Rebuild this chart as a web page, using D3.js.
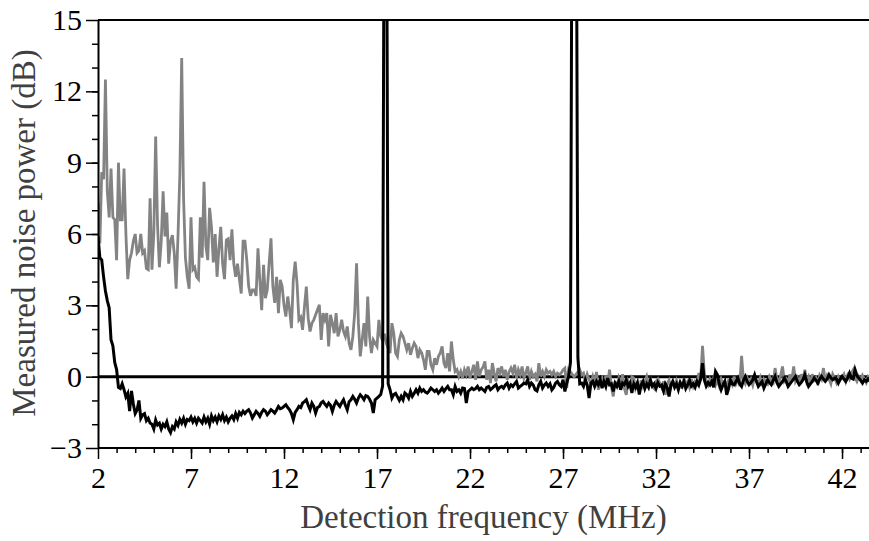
<!DOCTYPE html>
<html><head><meta charset="utf-8">
<script src="https://cdn.jsdelivr.net/npm/d3@7"></script>
<style>
body{margin:0;background:#fff}
svg{display:block}
text{font-family:"Liberation Serif","Times New Roman",serif}
</style>
</head><body>
<svg id="chart" width="869" height="541"></svg>
<script>
// Sampling of the spectrum analyser trace (MHz)
const freqStart = 2.0;
const freqStep = 0.1;

// Grey trace: measured noise power (dB), one row per MHz (x.0 ... x.9)
const greyTrace = [
  7.3, 5.6, 8.6, 8.3, 12.5, 7.8, 6.7, 8.75, 6.7, 6.6,      // 2
  4.9, 9.0, 6.6, 6.6, 8.75, 6.0, 4.1, 4.9, 5.2, 5.7,        // 3
  6.0, 5.2, 5.3, 6.0, 5.2, 5.3, 4.55, 4.5, 7.5, 4.5,        // 4
  6.0, 10.1, 6.4, 4.6, 5.7, 7.8, 5.9, 6.9, 4.75, 5.7,       // 5
  5.95, 5.2, 3.7, 5.9, 8.5, 13.4, 7.5, 5.0, 4.2, 3.7,       // 6
  6.7, 4.5, 4.6, 4.2, 4.1, 6.7, 5.0, 8.2, 5.5, 4.9,         // 7
  7.1, 6.3, 4.8, 6.0, 4.2, 5.4, 6.3, 4.75, 4.1, 5.75,       // 8
  5.8, 4.9, 6.2, 4.75, 4.2, 4.75, 4.1, 3.5, 5.7, 5.7,       // 9
  4.9, 3.8, 3.4, 3.65, 3.65, 3.4, 5.4, 4.07, 2.8, 4.7,      // 10
  3.3, 3.65, 4.77, 5.82, 3.8, 3.1, 4.2, 2.67, 4.07, 3.8,    // 11
  3.0, 2.53, 3.37, 2.81, 2.04, 4.07, 4.84, 3.93, 2.39, 2.5, // 12
  1.97, 2.95, 3.79, 2.46, 1.9, 2.25, 2.39, 2.6, 2.81, 3.02, // 13
  1.55, 2.67, 2.39, 2.67, 1.27, 2.6, 2.25, 1.83, 2.67, 1.69,// 14
  1.97, 2.39, 1.9, 1.69, 2.11, 1.41, 1.13, 1.69, 2.67, 4.77,// 15
  2.25, 0.85, 1.55, 2.25, 1.27, 3.37, 1.69, 0.99, 1.55, 1.41,// 16
  1.27, 2.39, 1.7, 1.5, 1.8, 1.4, 1.2, 0.99, 2.25, 1.83,    // 17
  0.99, 0.85, 1.55, 1.83, 1.69, 1.41, 1.13, 1.41, 0.92, 1.2,// 18
  1.41, 1.27, 0.78, 1.13, 1.0, 0.71, 0.29, 1.06, 1.06, 0.5, // 19
  0.29, 0.78, 0.5, 0.85, 1.0, 1.27, 0.57, 0.36, 0.99, 0.22, // 20
  1.48, 0.71, 0.22, 0.3, 0.01, 0.22, -0.06, 0.29, 0.08, 0.43,// 21
  -0.06, 0.22, 0.5, -0.13, 0.64, 0.01, 0.29, 0.4, 0.64, -0.13,// 22
  0.29, -0.27, 0.57, 0.15, -0.2, 0.36, 0.15, 0.43, 0.01, 0.29,// 23
  -0.13, 0.2, 0.36, 0.15, 0.5, -0.06, 0.29, 0.08, 0.43, -0.06,// 24
  0.15, 0.43, -0.13, 0.22, 0.01, 0.1, -0.2, 0.57, 0.01, 0.22, // 25
  0.01, 0.29, 0.15, 0.22, 0.08, 0.22, 0.01, 0.15, 0.08, 0.15, // 26
  0.29, 0.36, -0.48, 0.3, 0.2, 0.1, 0.0, 0.1, 0.2, 0.29,      // 27
  0.08, 0.15, -0.2, 0.1, -0.13, -0.3, 0.01, -0.25, 0.2, -0.55,// 28
  -0.2, -0.06, -0.35, 0.05, -0.3, 0.29, -0.4, -0.83, -0.2, -0.45,// 29
  -0.06, -0.3, 0.1, -0.5, -0.76, -0.2, -0.4, 0.0, -0.06, -0.5,// 30
  -0.3, -0.62, -0.15, -0.4, -0.2, 0.01, -0.35, -0.1, -0.41, -0.5,// 31
  -0.2, -0.1, -0.27, -0.45, -0.2, -0.76, -0.3, -0.15, -0.45, -0.2,// 32
  -0.35, -0.15, -0.41, -0.25, -0.5, -0.06, -0.3, -0.2, -0.45, -0.1,// 33
  -0.41, -0.2, -0.3, 0.15, -0.1, 1.3, 0.08, -0.2, -0.35, -0.1,// 34
  -0.27, -0.05, -0.35, -0.13, -0.4, -0.1, -0.3, -0.2, -0.5, -0.15,// 35
  -0.2, -0.35, 0.0, -0.3, -0.1, -0.4, 0.88, -0.15, -0.3, -0.05,// 36
  -0.25, -0.1, -0.35, 0.0, -0.2, -0.3, -0.05, -0.4, -0.1, -0.2,// 37
  -0.3, 0.0, -0.15, -0.25, 0.36, -0.1, -0.3, 0.05, 0.43, -0.2,// 38
  -0.1, -0.3, 0.1, -0.15, 0.43, -0.2, -0.05, -0.35, 0.1, -0.15,// 39
  0.29, -0.2, 0.0, -0.3, 0.1, -0.15, -0.05, -0.35, 0.05, -0.1,// 40
  0.36, -0.2, 0.05, -0.1, -0.3, 0.1, -0.05, -0.25, 0.0, -0.15,// 41
  -0.05, 0.1, -0.2, 0.05, -0.1, 0.15, 0.29, -0.05, -0.2, 0.0, // 42
  -0.15, 0.05, -0.1, -0.25, 0.0, -0.1                         // 43
];

// Black trace: measured noise power (dB), same sampling
const blackTrace = [
  5.9, 5.0, 4.9, 4.2, 3.6, 3.2, 2.9, 1.55, 1.3, 0.6,               // 2
  0.3, -0.45, -0.5, -0.3, -0.55, -0.85, -0.7, -1.45, -0.6, -1.15,  // 3
  -1.55, -1.4, -1.0, -1.75, -1.6, -1.55, -1.85, -1.75, -1.95, -2.0,// 4
  -2.2, -1.82, -2.03, -1.96, -2.2, -2.0, -2.1, -1.9, -2.2, -2.35,  // 5
  -2.1, -2.2, -1.9, -2.05, -1.8, -1.95, -1.75, -2.0, -1.8, -1.85,  // 6
  -1.7, -1.9, -1.75, -1.95, -1.75, -1.85, -1.95, -1.7, -1.9, -1.75,// 7
  -2.0, -1.65, -1.85, -1.7, -1.9, -1.65, -1.8, -1.6, -1.85, -1.7,  // 8
  -1.9, -1.75, -1.65, -1.8, -1.55, -1.75, -1.5, -1.6, -1.45, -1.55,// 9
  -1.45, -1.39, -1.53, -1.74, -1.6, -1.46, -1.55, -1.67, -1.5, -1.39,// 10
  -1.45, -1.6, -1.5, -1.39, -1.45, -1.53, -1.4, -1.25, -1.35, -1.32,// 11
  -1.25, -1.18, -1.3, -1.39, -1.55, -1.81, -1.5, -1.39, -1.25, -1.3,// 12
  -1.11, -1.05, -0.97, -1.2, -1.39, -1.11, -1.25, -1.53, -1.3, -1.25,// 13
  -1.1, -1.04, -1.15, -1.25, -1.11, -1.2, -1.46, -1.2, -1.04, -1.15,// 14
  -1.25, -1.1, -0.97, -1.2, -1.39, -1.05, -0.97, -0.83, -0.95, -1.11,// 15
  -0.9, -0.76, -0.85, -0.97, -0.8, -0.83, -0.95, -1.11, -1.53, -0.97,// 16
  -0.9, -0.83, -0.75, -0.4, 25, 25, -0.3, -0.55, -0.9, -0.75,       // 17
  -0.7, -0.85, -1.0, -0.83, -0.97, -0.69, -0.76, -0.9, -0.62, -0.83,// 18
  -0.7, -0.55, -0.69, -0.48, -0.62, -0.55, -0.65, -0.69, -0.6, -0.48,// 19
  -0.55, -0.62, -0.55, -0.69, -0.6, -0.48, -0.62, -0.5, -0.41, -0.55,// 20
  -0.55, -0.76, -0.41, -0.62, -0.55, -0.69, -0.48, -0.5, -1.11, -0.62,// 21
  -0.55, -0.48, -0.55, -0.5, -0.41, -0.55, -0.48, -0.55, -0.62, -0.45,// 22
  -0.41, -0.55, -0.48, -0.4, -0.34, -0.55, -0.45, -0.41, -0.48, -0.35,// 23
  -0.27, -0.48, -0.34, -0.41, -0.3, -0.2, -0.48, -0.41, -0.35, -0.27,// 24
  -0.3, -0.13, -0.41, -0.27, -0.35, -0.55, -0.6, -0.34, -0.2, -0.48,// 25
  -0.35, -0.27, -0.41, -0.3, -0.55, -0.45, -0.27, -0.2, -0.34, -0.41,// 26
  -0.13, -0.62, -0.27, 0.01, 0.6, 25, 25, 25, 0.8, -0.3,             // 27
  -0.27, -0.41, -0.13, -0.34, -0.9, -0.27, -0.2, -0.41, -0.2, -0.34,// 28
  -0.13, -0.48, -0.2, -0.41, -0.06, -0.34, -0.3, -0.62, -0.27, -0.41,// 29
  -0.2, -0.55, -0.27, -0.34, -0.13, -0.41, -0.27, -0.69, -0.3, -0.45,// 30
  -0.25, -0.75, -0.35, -0.2, -0.5, -0.3, -0.45, -0.15, -0.4, -0.3,  // 31
  -0.5, -0.25, -0.4, -0.35, -0.6, -0.3, -0.45, -0.83, -0.35, -0.2,  // 32
  -0.45, -0.3, -0.55, -0.25, -0.4, -0.2, -0.5, -0.35, -0.15, -0.4,  // 33
  -0.3, -0.45, -0.2, -0.35, -0.1, 0.57, -0.15, -0.4, -0.25, -0.35,  // 34
  -0.2, -0.45, 0.22, 0.08, -0.3, -0.55, -0.35, -0.2, -0.76, -0.5,   // 35
  -0.13, -0.3, -0.34, -0.2, -0.06, -0.3, -0.41, -0.15, 0.01, -0.2,  // 36
  -0.34, -0.25, -0.13, 0.08, -0.2, -0.41, -0.3, -0.2, -0.48, -0.3,  // 37
  -0.13, -0.25, -0.34, -0.15, 0.01, -0.25, -0.41, -0.3, -0.2, -0.06,// 38
  -0.2, -0.41, -0.3, -0.2, -0.1, 0.01, -0.2, -0.34, -0.25, -0.13,   // 39
  0.08, -0.2, -0.41, -0.3, -0.2, -0.06, -0.15, -0.27, -0.1, 0.01,   // 40
  -0.1, -0.2, -0.1, 0.08, -0.05, -0.13, -0.06, -0.1, -0.27, -0.1,   // 41
  0.01, -0.1, -0.2, -0.05, 0.15, -0.06, -0.1, 0.29, 0.05, -0.06,    // 42
  -0.15, -0.27, -0.13, -0.2, -0.1, -0.2                             // 43
];

const xTicks = [2, 7, 12, 17, 22, 27, 32, 37, 42];
const yTicks = [-3, 0, 3, 6, 9, 12, 15];
const xLabel = "Detection frequency (MHz)";
const yLabel = "Measured noise power (dB)";

const W = 869, H = 541;
const margin = {left: 98, top: 20, right: 0, bottom: 93};
const svg = d3.select("#chart");

const x = d3.scaleLinear().domain([2, 43.45]).range([margin.left, W - margin.right]);
const y = d3.scaleLinear().domain([-3, 15]).range([H - margin.bottom, margin.top]);

svg.append("defs").append("clipPath").attr("id", "plotclip")
  .append("rect")
  .attr("x", margin.left).attr("y", margin.top)
  .attr("width", W - margin.right - margin.left)
  .attr("height", (H - margin.bottom) - margin.top);

const xOf = i => freqStart + i * freqStep;

// zero reference line
svg.append("line")
  .attr("x1", x(2)).attr("x2", W - margin.right)
  .attr("y1", y(0)).attr("y2", y(0))
  .attr("stroke", "#000").attr("stroke-width", 3);

const line = d3.line().x((d, i) => x(xOf(i))).y(d => y(d));
const plot = svg.append("g").attr("clip-path", "url(#plotclip)");
plot.append("path").datum(greyTrace)
  .attr("d", line).attr("fill", "none")
  .attr("stroke", "#838383").attr("stroke-width", 2.8)
  .attr("stroke-linejoin", "miter");
plot.append("path").datum(blackTrace)
  .attr("d", line).attr("fill", "none")
  .attr("stroke", "#000").attr("stroke-width", 3)
  .attr("stroke-linejoin", "miter");

// top frame line
svg.append("line")
  .attr("x1", margin.left).attr("x2", W - margin.right)
  .attr("y1", margin.top).attr("y2", margin.top)
  .attr("stroke", "#000").attr("stroke-width", 2);

// x axis: minor + major
const xMinor = svg.append("g").attr("transform", `translate(0,${y(-3)})`)
  .call(d3.axisBottom(x).tickValues(d3.range(3, 44)).tickSize(5).tickSizeOuter(0).tickFormat(""));
xMinor.select(".domain").remove();
const xAxis = svg.append("g").attr("transform", `translate(0,${y(-3)})`)
  .call(d3.axisBottom(x).tickValues(xTicks).tickSize(11).tickSizeOuter(0).tickPadding(8));
xAxis.select(".domain").attr("stroke-width", 2).attr("d", `M${margin.left},0H${W}`);

// y axis: minor + major
const yMinor = svg.append("g").attr("transform", `translate(${margin.left},0)`)
  .call(d3.axisLeft(y).tickValues(d3.range(-2, 15)).tickSize(6).tickSizeOuter(0).tickFormat(""));
yMinor.select(".domain").remove();
const yAxis = svg.append("g").attr("transform", `translate(${margin.left},0)`)
  .call(d3.axisLeft(y).tickValues(yTicks).tickSize(12).tickSizeOuter(0).tickPadding(4));
yAxis.select(".domain").attr("stroke-width", 2);

svg.selectAll(".tick line").attr("stroke", "#000").attr("stroke-width", 1.5);
svg.selectAll(".tick text")
  .style("font-size", "30px").style("fill", "#000")
  .style("font-family", '"Liberation Serif","Times New Roman",serif');

// axis titles
svg.append("text")
  .attr("x", (margin.left + W) / 2).attr("y", 528)
  .attr("text-anchor", "middle").style("font-size", "33px").attr("fill", "#404040")
  .text(xLabel);
svg.append("text")
  .attr("transform", `translate(35,${233}) rotate(-90)`)
  .attr("text-anchor", "middle").style("font-size", "33px").attr("fill", "#404040")
  .text(yLabel);
</script>
</body></html>
